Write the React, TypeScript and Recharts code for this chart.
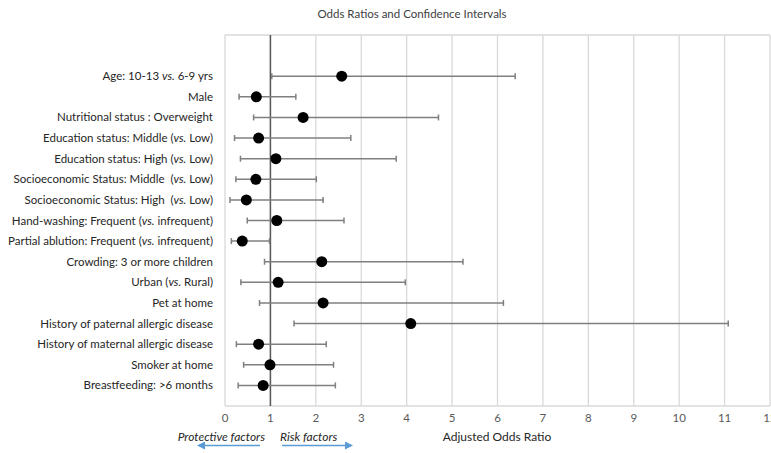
import React from 'react';
import { ScatterChart, Scatter, XAxis, YAxis, CartesianGrid, ErrorBar, ReferenceLine } from 'recharts';

// factors, top to bottom
const factors = [
  'Age: 10-13 vs. 6-9 yrs',
  'Male',
  'Nutritional status : Overweight',
  'Education status: Middle (vs. Low)',
  'Education status: High (vs. Low)',
  'Socioeconomic Status: Middle  (vs. Low)',
  'Socioeconomic Status: High  (vs. Low)',
  'Hand-washing: Frequent (vs. infrequent)',
  'Partial ablution: Frequent (vs. infrequent)',
  'Crowding: 3 or more children',
  'Urban (vs. Rural)',
  'Pet at home',
  'History of paternal allergic disease',
  'History of maternal allergic disease',
  'Smoker at home',
  'Breastfeeding: >6 months',
];
const oddsRatios = [2.57, 0.69, 1.72, 0.74, 1.12, 0.68, 0.47, 1.14, 0.38, 2.13, 1.17, 2.16, 4.09, 0.74, 0.99, 0.84];
const ciLow = [1.03, 0.31, 0.63, 0.21, 0.34, 0.24, 0.11, 0.49, 0.14, 0.87, 0.35, 0.76, 1.52, 0.25, 0.41, 0.29];
const ciHigh = [6.39, 1.56, 4.7, 2.77, 3.77, 2.01, 2.16, 2.62, 0.98, 5.24, 3.97, 6.13, 11.08, 2.23, 2.39, 2.43];
const xTicks = [0, 1, 2, 3, 4, 5, 6, 7, 8, 9, 10, 11, 12];

const FONT = 'Lato, "Noto Sans", sans-serif';

const rows = factors.map((name, i) => ({
  name,
  pos: factors.length - i,
  or: oddsRatios[i],
  err: [oddsRatios[i] - ciLow[i], ciHigh[i] - oddsRatios[i]],
}));
const yTicks = rows.map((r) => r.pos);

const FactorTick = (props: any) => {
  const { x, y, payload } = props;
  const row = rows.find((r) => r.pos === payload.value);
  if (!row) return null;
  const parts = row.name.split(/(vs\.)/);
  return (
    <text x={x - 4} y={y} dy="0.35em" textAnchor="end" fontSize={11.5} fill="#262626" fontFamily={FONT} style={{ whiteSpace: 'pre' }}>
      {parts.map((p, k) => (
        <tspan key={k} fontStyle={p === 'vs.' ? 'italic' : 'normal'}>{p}</tspan>
      ))}
    </text>
  );
};

const Dot = (props: any) => <circle cx={props.cx} cy={props.cy} r={5.5} fill="#000" />;

const App = () => {
  return (
    <div style={{ position: 'absolute', left: 0, top: 0, width: 771, height: 453, background: '#fff' }}>
      <ScatterChart width={771} height={453} margin={{ top: 35, right: 1, left: 0, bottom: 17 }}>
        <CartesianGrid horizontal={false} stroke="#d9d9d9" strokeWidth={1.3} />
        <ReferenceLine y={0} stroke="#d9d9d9" strokeWidth={1.3} />
        <ReferenceLine y={18} stroke="#d9d9d9" strokeWidth={1.3} />
        <XAxis
          type="number"
          dataKey="or"
          domain={[0, 12]}
          ticks={xTicks}
          interval={0}
          axisLine={false}
          tickLine={false}
          height={30}
          tick={{ fontSize: 11.5, fill: '#595959', fontFamily: FONT }}
        />
        <YAxis
          type="number"
          dataKey="pos"
          domain={[0, 18]}
          ticks={yTicks}
          interval={0}
          width={225}
          axisLine={false}
          tickLine={false}
          tick={<FactorTick />}
        />
        <ReferenceLine x={1} stroke="#595959" strokeWidth={1.5} />
        <Scatter data={rows} shape={<Dot />} isAnimationActive={false}>
          <ErrorBar dataKey="err" direction="x" width={3} stroke="#7f7f7f" strokeWidth={1.5} />
        </Scatter>
      </ScatterChart>
      <svg width={771} height={453} style={{ position: 'absolute', left: 0, top: 0, pointerEvents: 'none' }}>
        <defs>
          <marker id="arrowHead" markerWidth="8" markerHeight="8" refX="6" refY="4" orient="auto" markerUnits="userSpaceOnUse">
            <path d="M0,0 L8,4 L0,8 Z" fill="#5b9bd5" />
          </marker>
        </defs>
        <text x={412} y={14} dy="0.35em" textAnchor="middle" fontSize={11.5} fill="#404040" fontFamily={FONT}>
          Odds Ratios and Confidence Intervals
        </text>
        <text x={497} y={437} dy="0.35em" textAnchor="middle" fontSize={12} fill="#262626" fontFamily={FONT}>
          Adjusted Odds Ratio
        </text>
        <text x={265} y={437} dy="0.35em" textAnchor="end" fontSize={12} fill="#262626" fontStyle="italic" fontFamily={FONT}>
          Protective factors
        </text>
        <text x={280} y={437} dy="0.35em" textAnchor="start" fontSize={12} fill="#262626" fontStyle="italic" fontFamily={FONT}>
          Risk factors
        </text>
        <line x1={260} y1={445.5} x2={199} y2={445.5} stroke="#5b9bd5" strokeWidth={1.5} markerEnd="url(#arrowHead)" />
        <line x1={282} y1={445.5} x2={351} y2={445.5} stroke="#5b9bd5" strokeWidth={1.5} markerEnd="url(#arrowHead)" />
      </svg>
    </div>
  );
};

export default App;
